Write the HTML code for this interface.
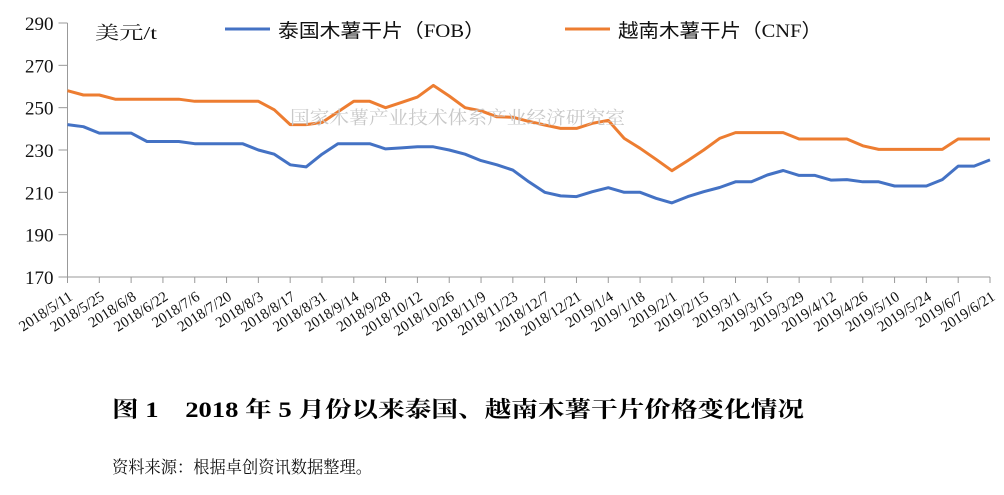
<!DOCTYPE html>
<html><head><meta charset="utf-8"><style>
body{margin:0;background:#fff;width:1004px;height:495px;overflow:hidden;font-family:"Liberation Serif","Noto Serif CJK SC",serif}
</style></head><body>
<svg id="chart" width="1004" height="495" xmlns="http://www.w3.org/2000/svg" style="position:absolute;left:0;top:0">
<g id="axes"></g><g id="marks"></g>
<text x="95" y="39" font-size="18" fill="#111" textLength="62" lengthAdjust="spacingAndGlyphs" font-family="Liberation Serif,Noto Serif CJK SC,serif">美元/t</text>
<text x="290" y="124" font-size="18" fill="#c8c8c8" textLength="335" lengthAdjust="spacingAndGlyphs" font-family="Liberation Serif,Noto Serif CJK SC,serif">国家木薯产业技术体系产业经济研究室</text>
<g>
<line x1="225" y1="29" x2="270" y2="29" stroke="#4472C4" stroke-width="3"/>
<text x="278" y="37" font-size="19" fill="#111" textLength="207" lengthAdjust="spacingAndGlyphs" font-family="Liberation Serif,Noto Sans CJK SC,serif">泰国木薯干片（FOB）</text></g>
<g>
<line x1="565" y1="29" x2="610" y2="29" stroke="#ED7D31" stroke-width="3"/>
<text x="618" y="37" font-size="19" fill="#111" textLength="204" lengthAdjust="spacingAndGlyphs" font-family="Liberation Serif,Noto Sans CJK SC,serif">越南木薯干片（CNF）</text></g>
<text x="112" y="417" font-size="22" font-weight="bold" fill="#000" textLength="692" lengthAdjust="spacingAndGlyphs" font-family="Liberation Serif,Noto Serif CJK SC,serif">图 1　2018 年 5 月份以来泰国、越南木薯干片价格变化情况</text>
<text x="112" y="473" font-size="17" fill="#111" textLength="260" lengthAdjust="spacingAndGlyphs" font-family="Liberation Serif,Noto Serif CJK SC,serif">资料来源：根据卓创资讯数据整理。</text>
</svg>
<script>
const tickLabels=["2018/5/11","2018/5/25","2018/6/8","2018/6/22","2018/7/6","2018/7/20","2018/8/3","2018/8/17","2018/8/31","2018/9/14","2018/9/28","2018/10/12","2018/10/26","2018/11/9","2018/11/23","2018/12/7","2018/12/21","2019/1/4","2019/1/18","2019/2/1","2019/2/15","2019/3/1","2019/3/15","2019/3/29","2019/4/12","2019/4/26","2019/5/10","2019/5/24","2019/6/7","2019/6/21"];
const yTicks=[170,190,210,230,250,270,290];
const thaiFOB=[242,241,238,238,238,234,234,234,233,233,233,233,230,228,223,222,228,233,233,233,230.5,231,231.5,231.5,230,228,225,223,220.5,215,210,208.3,208,210.3,212.2,210,210,207.2,205,208,210.3,212.3,215,215,218.2,220.3,218,218,215.8,216,215,215,213,213,213,216,222.4,222.4,225.3];
const vietCNF=[258,256,256,254,254,254,254,254,253,253,253,253,253,249,242,242,243,248,253,253,250,252.5,255,260.5,255.5,250,248.5,245.7,245.5,243.5,241.8,240.2,240.2,242.6,244,235.5,230.8,225.6,220.2,225,230,235.5,238.2,238.2,238.2,238.2,235.2,235.2,235.2,235.2,232,230.3,230.3,230.3,230.3,230.3,235.2,235.2,235.2];
const NS="http://www.w3.org/2000/svg";
const X0=67.5,X1=990,Y0=277,Y1=23,N=thaiFOB.length;
const xs=i=>X0+(X1-X0)*i/(N-1);
const ys=v=>Y0-(v-170)/(290-170)*(Y0-Y1);
const axes=document.getElementById('axes'),marks=document.getElementById('marks');
function mk(t,a,p){const e=document.createElementNS(NS,t);for(const k in a)e.setAttribute(k,a[k]);p.appendChild(e);return e;}
const ya=mk('line',{x1:X0,y1:Y1,x2:X0,y2:Y0,stroke:'#999','stroke-width':1},axes);


yTicks.forEach(v=>{
 const l=mk('line',{x1:X0-9,y1:ys(v),x2:X0,y2:ys(v),stroke:'#999'},axes);
 
 
 const t=mk('text',{x:X0-14,y:ys(v)+7,'text-anchor':'end','font-size':19,fill:'#111'},axes);
 
 
 t.textContent=v;
});
const xa=mk('line',{x1:X0,y1:Y0,x2:X1,y2:Y0,stroke:'#999'},axes);


tickLabels.forEach((lab,j)=>{
 const x=xs(j*2);
 const l=mk('line',{x1:x,y1:Y0,x2:x,y2:Y0+6,stroke:'#999'},axes);
 
 
 const ax=x+6,ay=Y0+22;
 const t=mk('text',{x:ax,y:ay,'text-anchor':'end','font-size':15,fill:'#111',transform:`rotate(-33 ${ax} ${ay})`},axes);
 
 
 t.textContent=lab;
});
function series(arr,color,name){
 const p=mk('polyline',{points:arr.map((v,i)=>xs(i).toFixed(1)+','+ys(v).toFixed(1)).join(' '),fill:'none',stroke:color,'stroke-width':3,'stroke-linejoin':'round'},marks);
 
 
}
series(vietCNF,'#ED7D31','vietnam-cnf-line');
series(thaiFOB,'#4472C4','thailand-fob-line');
</script>
</body></html>
